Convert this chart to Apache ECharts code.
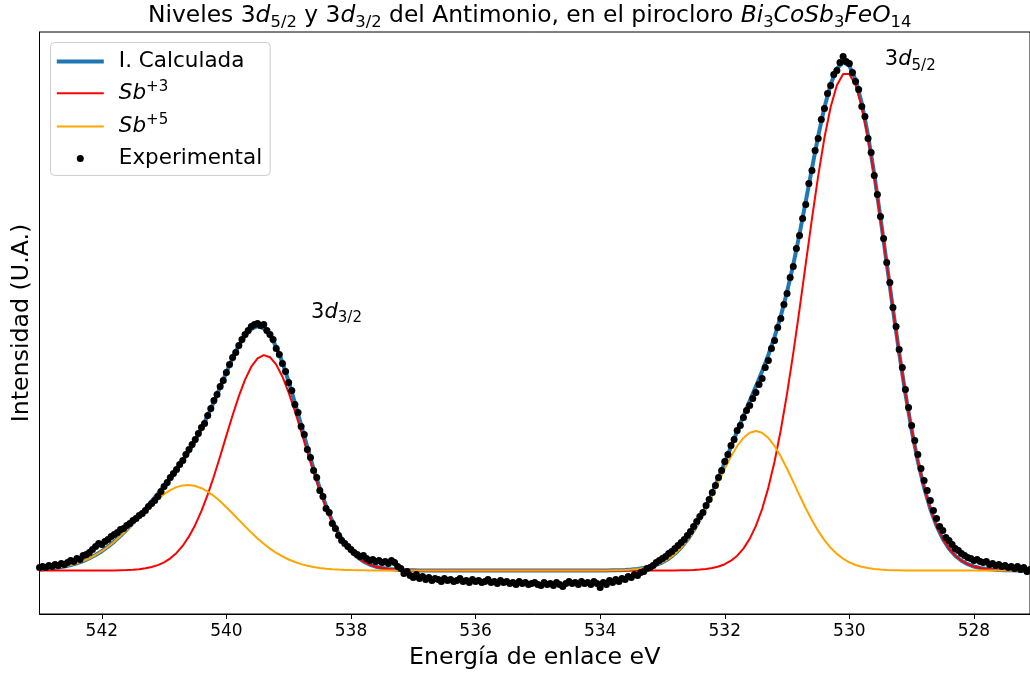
<!DOCTYPE html>
<html>
<head>
<meta charset="utf-8">
<script src="https://cdn.jsdelivr.net/npm/echarts@6/dist/echarts.min.js"></script>
<style>
html,body{margin:0;padding:0;background:#fff;}
#chart{width:1030px;height:675px;}
</style>
</head>
<body>
<div id="chart"></div>
<script>
// Binding energy grid for the fitted curves (eV)
const energy = [
543.0,542.9,542.8,542.7,542.6,542.5,542.4,542.3,542.2,542.1,
542.0,541.9,541.8,541.7,541.6,541.5,541.4,541.3,541.2,541.1,
541.0,540.9,540.8,540.7,540.6,540.5,540.4,540.3,540.2,540.1,
540.0,539.9,539.8,539.7,539.6,539.5,539.4,539.3,539.2,539.1,
539.0,538.9,538.8,538.7,538.6,538.5,538.4,538.3,538.2,538.1,
538.0,537.9,537.8,537.7,537.6,537.5,537.4,537.3,537.2,537.1,
537.0,536.9,536.8,536.7,536.6,536.5,536.4,536.3,536.2,536.1,
536.0,535.9,535.8,535.7,535.6,535.5,535.4,535.3,535.2,535.1,
535.0,534.9,534.8,534.7,534.6,534.5,534.4,534.3,534.2,534.1,
534.0,533.9,533.8,533.7,533.6,533.5,533.4,533.3,533.2,533.1,
533.0,532.9,532.8,532.7,532.6,532.5,532.4,532.3,532.2,532.1,
532.0,531.9,531.8,531.7,531.6,531.5,531.4,531.3,531.2,531.1,
531.0,530.9,530.8,530.7,530.6,530.5,530.4,530.3,530.2,530.1,
530.0,529.9,529.8,529.7,529.6,529.5,529.4,529.3,529.2,529.1,
529.0,528.9,528.8,528.7,528.6,528.5,528.4,528.3,528.2,528.1,
528.0,527.9,527.8,527.7,527.6,527.5,527.4,527.3,527.2,527.1
];
// Sb+3 component
const sb3 = [
0,0,0,0,0,0,0,0,0,0,
0,0.1,0.1,0.3,0.5,0.8,1.3,2.2,3.5,5.4,
8.2,12.2,17.6,24.8,34.1,45.6,59.6,75.9,94.3,114.2,
134.9,155.3,174.4,190.9,203.8,212.2,215.4,213.3,205.9,193.8,
177.9,159.3,139.0,118.3,98.2,79.5,62.7,48.2,36.2,26.5,
18.9,13.1,8.9,5.9,3.8,2.4,1.5,0.9,0.5,0.3,
0.2,0.1,0,0,0,0,0,0,0,0,
0,0,0,0,0,0,0,0,0,0,
0,0,0,0,0,0,0,0,0,0,
0,0,0,0,0,0,0,0,0,0,
0,0,0.1,0.2,0.3,0.5,0.9,1.5,2.5,4.0,
6.3,9.8,14.8,21.9,31.6,44.6,61.5,82.9,109.1,140.5,
176.8,217.3,261.1,306.6,351.9,394.7,432.7,463.5,485.3,496.6,
496.6,485.3,463.5,432.7,394.7,351.9,306.6,261.1,217.3,176.8,
140.5,109.1,82.9,61.5,44.6,31.6,21.9,14.8,9.8,6.3,
4.0,2.5,1.5,0.9,0.5,0.3,0.2,0.1,0,0
];
// Sb+5 component
const sb5 = [
1.0,1.5,2.1,2.9,4.0,5.4,7.2,9.4,12.2,15.5,
19.3,23.8,28.8,34.4,40.4,46.7,53.2,59.6,65.7,71.4,
76.4,80.4,83.4,85.1,85.5,84.5,82.3,78.9,74.5,69.2,
63.3,57.0,50.6,44.1,37.9,32.1,26.7,21.9,17.7,14.1,
11.0,8.5,6.4,4.8,3.5,2.6,1.8,1.3,0.9,0.6,
0.4,0.3,0.2,0.1,0,0,0,0,0,0,
0,0,0,0,0,0,0,0,0,0,
0,0,0,0,0,0,0,0,0,0,
0,0,0,0,0,0,0,0,0,0,
0,0.1,0.2,0.3,0.5,0.9,1.5,2.4,3.7,5.5,
8.2,11.8,16.6,22.7,30.4,39.6,50.3,62.3,75.2,88.6,
101.8,114.0,124.5,132.6,137.8,139.5,137.8,132.6,124.5,114.0,
101.8,88.6,75.2,62.3,50.3,39.6,30.4,22.7,16.6,11.8,
8.2,5.5,3.7,2.4,1.5,0.9,0.5,0.3,0.2,0.1,
0,0,0,0,0,0,0,0,0,0,
0,0,0,0,0,0,0,0,0,0
];
// Calculated envelope
const calculated = [
1.0,1.5,2.1,2.9,4.0,5.4,7.2,9.4,12.2,15.5,
19.3,23.9,28.9,34.7,40.9,47.5,54.5,61.8,69.2,76.8,
84.6,92.6,101.0,109.9,119.6,130.1,141.9,154.8,168.8,183.4,
198.2,212.3,225.0,235.0,241.7,244.3,242.1,235.2,223.6,207.9,
188.9,167.8,145.4,123.1,101.7,82.1,64.5,49.5,37.1,27.1,
19.3,13.4,9.1,6.0,3.8,2.4,1.5,0.9,0.5,0.3,
0.2,0.1,0,0,0,0,0,0,0,0,
0,0,0,0,0,0,0,0,0,0,
0,0,0,0,0,0,0,0,0,0,
0,0.1,0.2,0.3,0.5,0.9,1.5,2.4,3.7,5.5,
8.2,11.8,16.7,22.9,30.7,40.1,51.2,63.8,77.7,92.6,
108.1,123.8,139.3,154.5,169.4,184.1,199.3,215.5,233.6,254.5,
278.6,305.9,336.3,368.9,402.2,434.3,463.1,486.2,501.9,508.4,
504.8,490.8,467.2,435.1,396.2,352.8,307.1,261.4,217.5,176.9,
140.5,109.1,82.9,61.5,44.6,31.6,21.9,14.8,9.8,6.3,
4.0,2.5,1.5,0.9,0.5,0.3,0.2,0.1,0,0
];
// Experimental points
const expEnergy = [
543.00,542.95,542.90,542.85,542.80,542.75,542.70,542.65,542.60,542.55,
542.50,542.45,542.40,542.35,542.30,542.25,542.20,542.15,542.10,542.05,
542.00,541.95,541.90,541.85,541.80,541.75,541.70,541.65,541.60,541.55,
541.50,541.45,541.40,541.35,541.30,541.25,541.20,541.15,541.10,541.05,
541.00,540.95,540.90,540.85,540.80,540.75,540.70,540.65,540.60,540.55,
540.50,540.45,540.40,540.35,540.30,540.25,540.20,540.15,540.10,540.05,
540.00,539.95,539.90,539.85,539.80,539.75,539.70,539.65,539.60,539.55,
539.50,539.45,539.40,539.35,539.30,539.25,539.20,539.15,539.10,539.05,
539.00,538.95,538.90,538.85,538.80,538.75,538.70,538.65,538.60,538.55,
538.50,538.45,538.40,538.35,538.30,538.25,538.20,538.15,538.10,538.05,
538.00,537.95,537.90,537.85,537.80,537.75,537.70,537.65,537.60,537.55,
537.50,537.45,537.40,537.35,537.30,537.25,537.20,537.15,537.10,537.05,
537.00,536.95,536.90,536.85,536.80,536.75,536.70,536.65,536.60,536.55,
536.50,536.45,536.40,536.35,536.30,536.25,536.20,536.15,536.10,536.05,
536.00,535.95,535.90,535.85,535.80,535.75,535.70,535.65,535.60,535.55,
535.50,535.45,535.40,535.35,535.30,535.25,535.20,535.15,535.10,535.05,
535.00,534.95,534.90,534.85,534.80,534.75,534.70,534.65,534.60,534.55,
534.50,534.45,534.40,534.35,534.30,534.25,534.20,534.15,534.10,534.05,
534.00,533.95,533.90,533.85,533.80,533.75,533.70,533.65,533.60,533.55,
533.50,533.45,533.40,533.35,533.30,533.25,533.20,533.15,533.10,533.05,
533.00,532.95,532.90,532.85,532.80,532.75,532.70,532.65,532.60,532.55,
532.50,532.45,532.40,532.35,532.30,532.25,532.20,532.15,532.10,532.05,
532.00,531.95,531.90,531.85,531.80,531.75,531.70,531.65,531.60,531.55,
531.50,531.45,531.40,531.35,531.30,531.25,531.20,531.15,531.10,531.05,
531.00,530.95,530.90,530.85,530.80,530.75,530.70,530.65,530.60,530.55,
530.50,530.45,530.40,530.35,530.30,530.25,530.20,530.15,530.10,530.05,
530.00,529.95,529.90,529.85,529.80,529.75,529.70,529.65,529.60,529.55,
529.50,529.45,529.40,529.35,529.30,529.25,529.20,529.15,529.10,529.05,
529.00,528.95,528.90,528.85,528.80,528.75,528.70,528.65,528.60,528.55,
528.50,528.45,528.40,528.35,528.30,528.25,528.20,528.15,528.10,528.05,
528.00,527.95,527.90,527.85,527.80,527.75,527.70,527.65,527.60,527.55,
527.50,527.45,527.40,527.35,527.30,527.25,527.20,527.15,
527.10
];
const expIntensity = [
3,4,3,5,4,6,5,7,6,8,
10,9,12,11,15,16,18,21,24,27,
26,29,31,34,36,38,41,42,45,47,
50,52,55,57,60,64,67,70,74,79,
84,88,93,97,101,106,110,116,121,126,
131,137,143,147,155,162,170,176,184,190,
198,206,213,218,225,231,236,240,244,246,
247,245,246,240,236,231,222,216,207,199,
188,180,166,158,144,136,121,113,100,93,
80,74,62,58,47,42,35,30,27,24,
21,18,16,14,15,12,10,11,9,10,
8,9,7,10,8,4,2,-3,-1,-5,
-7,-4,-8,-6,-9,-7,-10,-8,-9,-11,
-8,-10,-9,-11,-10,-8,-11,-10,-12,-9,
-11,-10,-12,-11,-9,-12,-11,-13,-10,-12,
-11,-13,-12,-14,-11,-13,-12,-14,-13,-12,
-14,-15,-12,-14,-13,-15,-12,-14,-16,-13,
-11,-13,-12,-14,-11,-13,-12,-14,-11,-13,
-17,-12,-14,-10,-12,-9,-11,-8,-9,-6,
-7,-4,-5,-2,-1,2,3,5,8,10,
12,14,17,19,22,25,28,31,35,39,
44,49,54,58,65,71,78,85,93,100,
109,116,125,131,140,145,153,160,165,172,
178,186,192,203,210,222,230,243,252,266,
277,293,304,322,335,352,366,387,400,420,
432,451,462,477,485,496,500,508,514,509,
507,498,489,481,464,454,432,418,395,376,
354,332,308,288,263,244,221,203,181,163,
145,130,116,102,90,80,70,60,52,44,
40,33,30,26,22,20,17,15,13,12,
10,11,9,8,9,6,7,5,6,4,
5,3,4,2,4,1,3,-1,
1
];
const xTicks = [528, 530, 532, 534, 536, 538, 540, 542];
const seriesNames = ['I. Calculada', 'Sb+3', 'Sb+5', 'Experimental'];
const peakLabels = [
  {text: '3{i|d}{s|5/2}', energy: 529.43, intensity: 510.5},
  {text: '3{i|d}{s|3/2}', energy: 538.64, intensity: 258}
];

const FONT = 'DejaVu Sans';
const pair = (xs, ys) => xs.map((x, i) => [x, ys[i]]);

const chart = echarts.init(document.getElementById('chart'), null, {renderer: 'canvas'});
const option = {
  animation: false,
  backgroundColor: '#ffffff',
  title: {
    text: 'Niveles 3{i|d}{s|5/2} y 3{i|d}{s|3/2} del Antimonio, en el pirocloro {i|Bi}{s|3}{i|CoSb}{s|3}{i|FeO}{s|14}',
    left: 148,
    top: 2,
    padding: 0,
    textStyle: {
      fontFamily: FONT, fontSize: 23.4, fontWeight: 'normal', color: '#000', lineHeight: 28,
      rich: {
        i: {fontFamily: FONT, fontSize: 23.4, fontStyle: 'italic', color: '#000', lineHeight: 28},
        s: {fontFamily: FONT, fontSize: 16.4, color: '#000', padding: [13, 0, 0, 0], lineHeight: 28}
      }
    }
  },
  grid: {
    left: 39.5, right: 0, top: 32, bottom: 61,
    show: true, borderColor: '#000', borderWidth: 1, backgroundColor: 'transparent',
    containLabel: false, outerBoundsMode: 'none'
  },
  legend: {
    orient: 'vertical',
    left: 50.5, top: 42.5,
    padding: [7, 8, 5, 6.3],
    itemGap: 6.3,
    itemWidth: 57, itemHeight: 14,
    selectedMode: false,
    backgroundColor: 'rgba(255,255,255,0.8)',
    borderColor: '#cccccc', borderWidth: 1, borderRadius: 4,
    itemStyle: {borderWidth: 0},
    data: [
      {name: seriesNames[0], icon: 'path://M0,0M57,14M0,5L47,5L47,9L0,9Z'},
      {name: seriesNames[1], icon: 'path://M0,0M57,14M0,6L47,6L47,8L0,8Z'},
      {name: seriesNames[2], icon: 'path://M0,0M57,14M0,6L47,6L47,8L0,8Z'},
      {name: seriesNames[3], icon: 'path://M0,0M57,14M20,7A3.5,3.5,0,1,1,27,7A3.5,3.5,0,1,1,20,7Z'}
    ],
    formatter: function (name) {
      if (name === 'Sb+3') return '{i|Sb}{p|+3}';
      if (name === 'Sb+5') return '{i|Sb}{p|+5}';
      return name;
    },
    textStyle: {
      fontFamily: FONT, fontSize: 21.5, color: '#000', lineHeight: 24,
      rich: {
        i: {fontFamily: FONT, fontSize: 21.5, fontStyle: 'italic', color: '#000', lineHeight: 24},
        p: {fontFamily: FONT, fontSize: 15, color: '#000', padding: [0, 0, 12, 0], lineHeight: 24}
      }
    }
  },
  xAxis: {
    type: 'value',
    min: 527.1, max: 543.0,
    inverse: true,
    name: 'Energía de enlace eV',
    nameLocation: 'middle',
    nameGap: 32,
    nameTextStyle: {fontFamily: FONT, fontSize: 23.7, color: '#000'},
    axisLine: {show: true, onZero: false, lineStyle: {color: '#000', width: 1}},
    axisTick: {show: true, length: 5, inside: false, customValues: xTicks, lineStyle: {color: '#000', width: 1}},
    axisLabel: {show: true, margin: 9, customValues: xTicks, fontFamily: FONT, fontSize: 17, color: '#000',
      showMinLabel: true, showMaxLabel: true},
    splitLine: {show: false}
  },
  yAxis: {
    type: 'value',
    min: -43.5, max: 538.5,
    name: 'Intensidad (U.A.)',
    nameLocation: 'middle',
    nameGap: 5.6,
    nameTextStyle: {fontFamily: FONT, fontSize: 23.7, color: '#000'},
    axisLine: {show: true, onZero: false, lineStyle: {color: '#000', width: 1}},
    axisTick: {show: false},
    axisLabel: {show: false},
    splitLine: {show: false}
  },
  series: [
    {
      name: seriesNames[0], type: 'line', data: pair(energy, calculated),
      symbol: 'none', color: '#1f77b4', itemStyle: {color: '#1f77b4'},
      lineStyle: {color: '#1f77b4', width: 4}, z: 2
    },
    {
      name: seriesNames[1], type: 'line', data: pair(energy, sb3),
      symbol: 'none', color: '#ff0000', itemStyle: {color: '#ff0000'},
      lineStyle: {color: '#ff0000', width: 2}, z: 3
    },
    {
      name: seriesNames[2], type: 'line', data: pair(energy, sb5),
      symbol: 'none', color: '#ffa500', itemStyle: {color: '#ffa500'},
      lineStyle: {color: '#ffa500', width: 2}, z: 4
    },
    {
      name: seriesNames[3], type: 'scatter', data: pair(expEnergy, expIntensity),
      symbol: 'circle', symbolSize: 7, color: '#000', itemStyle: {color: '#000', opacity: 1}, z: 5
    },
    {
      name: 'labels', type: 'scatter', silent: true, z: 6,
      symbolSize: 0,
      itemStyle: {opacity: 1},
      data: peakLabels.map(p => ({value: [p.energy, p.intensity], label: {formatter: p.text}})),
      label: {
        show: true, position: 'right', distance: 0,
        fontFamily: FONT, fontSize: 21, color: '#000', lineHeight: 24, opacity: 1,
        rich: {
          i: {fontFamily: FONT, fontSize: 21, fontStyle: 'italic', color: '#000', lineHeight: 24},
          s: {fontFamily: FONT, fontSize: 15, color: '#000', padding: [12, 0, 0, 0], lineHeight: 24}
        }
      }
    }
  ]
};
chart.setOption(option);
</script>
</body>
</html>
